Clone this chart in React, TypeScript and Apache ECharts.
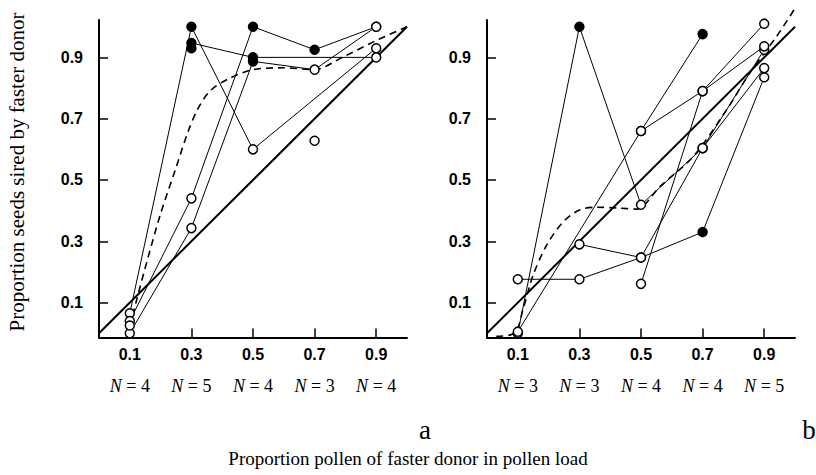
import React, { useEffect, useRef } from "react";
import * as echarts from "echarts";

// x levels (proportion pollen of faster donor) and tick labels
const xTicks = [0.1, 0.3, 0.5, 0.7, 0.9];
const yTicks = [0.1, 0.3, 0.5, 0.7, 0.9];
const nA = [4, 5, 4, 3, 4];
const nB = [3, 3, 4, 4, 5];

// Panel a: proportions at each x level (null = no point); filled flags (1 = filled dot)
const a1 = [0.065, 1.0, 0.6, null, 0.93];
const a1f = [0, 1, 0, 0, 0];
const a2 = [null, 0.947, 0.9, null, 0.9];
const a2f = [0, 1, 1, 0, 0];
const a3 = [0.04, 0.44, 1.0, 0.925, 1.0];
const a3f = [0, 0, 1, 1, 0];
const a4 = [0.0, 0.343, 0.887, 0.86, 1.0];
const a4f = [0, 0, 1, 0, 0];
const aIso = [0.025, 0.93, null, 0.628, null];
const aIsoF = [0, 1, 0, 0, 0];

// Panel b
const b1 = [0.0, 1.0, 0.419, 0.604, 0.925];
const b1f = [0, 1, 0, 0, 0];
const b2 = [0.176, 0.176, 0.247, 0.33, 0.835];
const b2f = [0, 0, 0, 1, 0];
const b3 = [0.005, null, 0.66, 0.976, null];
const b3f = [0, 0, 0, 1, 0];
const b4 = [null, 0.29, 0.247, 0.604, 0.865];
const b4f = [0, 0, 0, 0, 0];
const b5 = [null, null, 0.66, 0.79, 1.01];
const b5f = [0, 0, 0, 0, 0];
const b6 = [null, null, 0.161, 0.79, 0.936];
const b6f = [0, 0, 0, 0, 0];

// Fitted (dashed) curves
const fitAx = [0.1, 0.12, 0.16, 0.2, 0.25, 0.29, 0.32, 0.36, 0.42, 0.5, 0.6, 0.7, 0.79, 0.9, 1.0];
const fitAy = [0.02, 0.1, 0.25, 0.39, 0.54, 0.66, 0.73, 0.79, 0.83, 0.86, 0.866, 0.86, 0.9, 0.955, 1.0];
const fitBx = [0.03, 0.09, 0.118, 0.15, 0.194, 0.248, 0.302, 0.356, 0.43, 0.486, 0.562, 0.67, 0.778, 0.853, 0.94, 1.0];
const fitBy = [-0.01, 0.0, 0.082, 0.19, 0.288, 0.364, 0.403, 0.411, 0.408, 0.405, 0.479, 0.577, 0.729, 0.849, 0.968, 1.06];

// 1:1 line
const diagX = [0, 1];
const diagY = [0, 1];

const Y_MIN = -0.014;
const Y_MAX = 1.022;

function pts(ys: (number | null)[], fl: number[]) {
  const out: any[] = [];
  xTicks.forEach((x, i) => {
    const y = ys[i];
    if (y === null || y === undefined) return;
    out.push({ value: [x, y], itemStyle: { color: fl[i] ? "#000" : "#fff", opacity: 1 } });
  });
  return out;
}

function dataLine(ys: (number | null)[], fl: number[], idx: number) {
  return {
    type: "line",
    xAxisIndex: idx,
    yAxisIndex: idx,
    data: pts(ys, fl),
    symbol: "circle",
    symbolSize: 9,
    showSymbol: true,
    clip: false,
    lineStyle: { color: "#000", width: 1 },
    itemStyle: { borderColor: "#000", borderWidth: 1.5, opacity: 1 },
    emphasis: { disabled: true },
    z: 4,
  };
}

function isoPts(ys: (number | null)[], fl: number[], idx: number) {
  return {
    type: "scatter",
    xAxisIndex: idx,
    yAxisIndex: idx,
    data: pts(ys, fl),
    symbol: "circle",
    symbolSize: 9,
    clip: false,
    itemStyle: { borderColor: "#000", borderWidth: 1.5, opacity: 1 },
    emphasis: { disabled: true },
    z: 4,
  };
}

function curve(xs: number[], ys: number[], idx: number, dashed: boolean, width: number) {
  return {
    type: "line",
    xAxisIndex: idx,
    yAxisIndex: idx,
    data: xs.map((x, i) => [x, ys[i]]),
    showSymbol: false,
    symbol: "none",
    smooth: dashed ? 0.3 : false,
    clip: false,
    lineStyle: { color: "#000", width, type: dashed ? [7, 5] : "solid" },
    emphasis: { disabled: true },
    z: 2,
  };
}

const tickLabel = {
  color: "#000",
  fontFamily: "Liberation Sans",
  fontWeight: "bold",
  fontSize: 16,
};

function mainX(gridIndex: number) {
  return {
    type: "value",
    gridIndex,
    min: 0,
    max: 1,
    position: "bottom",
    axisLine: { show: true, onZero: false, lineStyle: { color: "#000", width: 2 } },
    axisTick: { show: true, inside: true, length: 9, customValues: xTicks, lineStyle: { color: "#000", width: 1.5 } },
    axisLabel: { ...tickLabel, margin: 9, customValues: xTicks, formatter: (v: number) => v.toFixed(1) },
    splitLine: { show: false },
  };
}

function nX(gridIndex: number, ns: number[]) {
  return {
    type: "value",
    gridIndex,
    min: 0,
    max: 1,
    position: "bottom",
    offset: 36,
    axisLine: { show: false },
    axisTick: { show: false },
    axisLabel: {
      customValues: xTicks,
      margin: 3,
      color: "#000",
      fontFamily: "Liberation Serif",
      fontSize: 18,
      formatter: (v: number) => {
        const i = xTicks.findIndex((t) => Math.abs(t - v) < 1e-6);
        return "{i|N} = " + ns[i];
      },
      rich: { i: { fontStyle: "italic", fontFamily: "Liberation Serif", fontSize: 18, color: "#000" } },
    },
    splitLine: { show: false },
  };
}

function mainY(gridIndex: number) {
  return {
    type: "value",
    gridIndex,
    min: Y_MIN,
    max: Y_MAX,
    axisLine: { show: true, onZero: false, lineStyle: { color: "#000", width: 2 } },
    axisTick: { show: true, inside: true, length: 9, customValues: yTicks, lineStyle: { color: "#000", width: 1.5 } },
    axisLabel: { ...tickLabel, margin: 16, customValues: yTicks, formatter: (v: number) => v.toFixed(1) },
    splitLine: { show: false },
  };
}

export default function App() {
  const ref = useRef<HTMLDivElement>(null);
  useEffect(() => {
    if (!ref.current) return;
    const chart = echarts.init(ref.current, null, { renderer: "svg" });
    chart.setOption({
      animation: false,
      backgroundColor: "#fff",
      grid: [
        { left: 99, top: 20, width: 308, height: 317.5, containLabel: false, outerBoundsMode: "none" },
        { left: 487, top: 20, width: 308, height: 317.5, containLabel: false, outerBoundsMode: "none" },
      ],
      xAxis: [mainX(0), mainX(1), nX(0, nA), nX(1, nB)],
      yAxis: [mainY(0), mainY(1)],
      series: [
        curve(diagX, diagY, 0, false, 2),
        curve(fitAx, fitAy, 0, true, 1.6),
        dataLine(a1, a1f, 0),
        dataLine(a2, a2f, 0),
        dataLine(a3, a3f, 0),
        dataLine(a4, a4f, 0),
        isoPts(aIso, aIsoF, 0),
        curve(diagX, diagY, 1, false, 2),
        curve(fitBx, fitBy, 1, true, 1.6),
        dataLine(b1, b1f, 1),
        dataLine(b2, b2f, 1),
        dataLine(b3, b3f, 1),
        dataLine(b4, b4f, 1),
        dataLine(b5, b5f, 1),
        dataLine(b6, b6f, 1),
      ],
      graphic: [
        {
          type: "text",
          x: 17,
          y: 172,
          rotation: Math.PI / 2,
          style: {
            text: "Proportion seeds sired by faster donor",
            fontFamily: "Liberation Serif",
            fontSize: 21,
            fill: "#000",
            textAlign: "center",
            textVerticalAlign: "middle",
          },
        },
        {
          type: "text",
          x: 425,
          y: 430,
          style: { text: "a", fontFamily: "Liberation Serif", fontSize: 27, fill: "#000", textAlign: "center", textVerticalAlign: "middle" },
        },
        {
          type: "text",
          x: 809,
          y: 430,
          style: { text: "b", fontFamily: "Liberation Serif", fontSize: 27, fill: "#000", textAlign: "center", textVerticalAlign: "middle" },
        },
        {
          type: "text",
          x: 408,
          y: 458,
          style: {
            text: "Proportion pollen of faster donor in pollen load",
            fontFamily: "Liberation Serif",
            fontSize: 19,
            fill: "#000",
            textAlign: "center",
            textVerticalAlign: "middle",
          },
        },
      ],
    });
    return () => chart.dispose();
  }, []);
  return (
    <div
      ref={ref}
      style={{ position: "fixed", left: 0, top: 0, width: 816, height: 475, background: "#fff" }}
    />
  );
}
